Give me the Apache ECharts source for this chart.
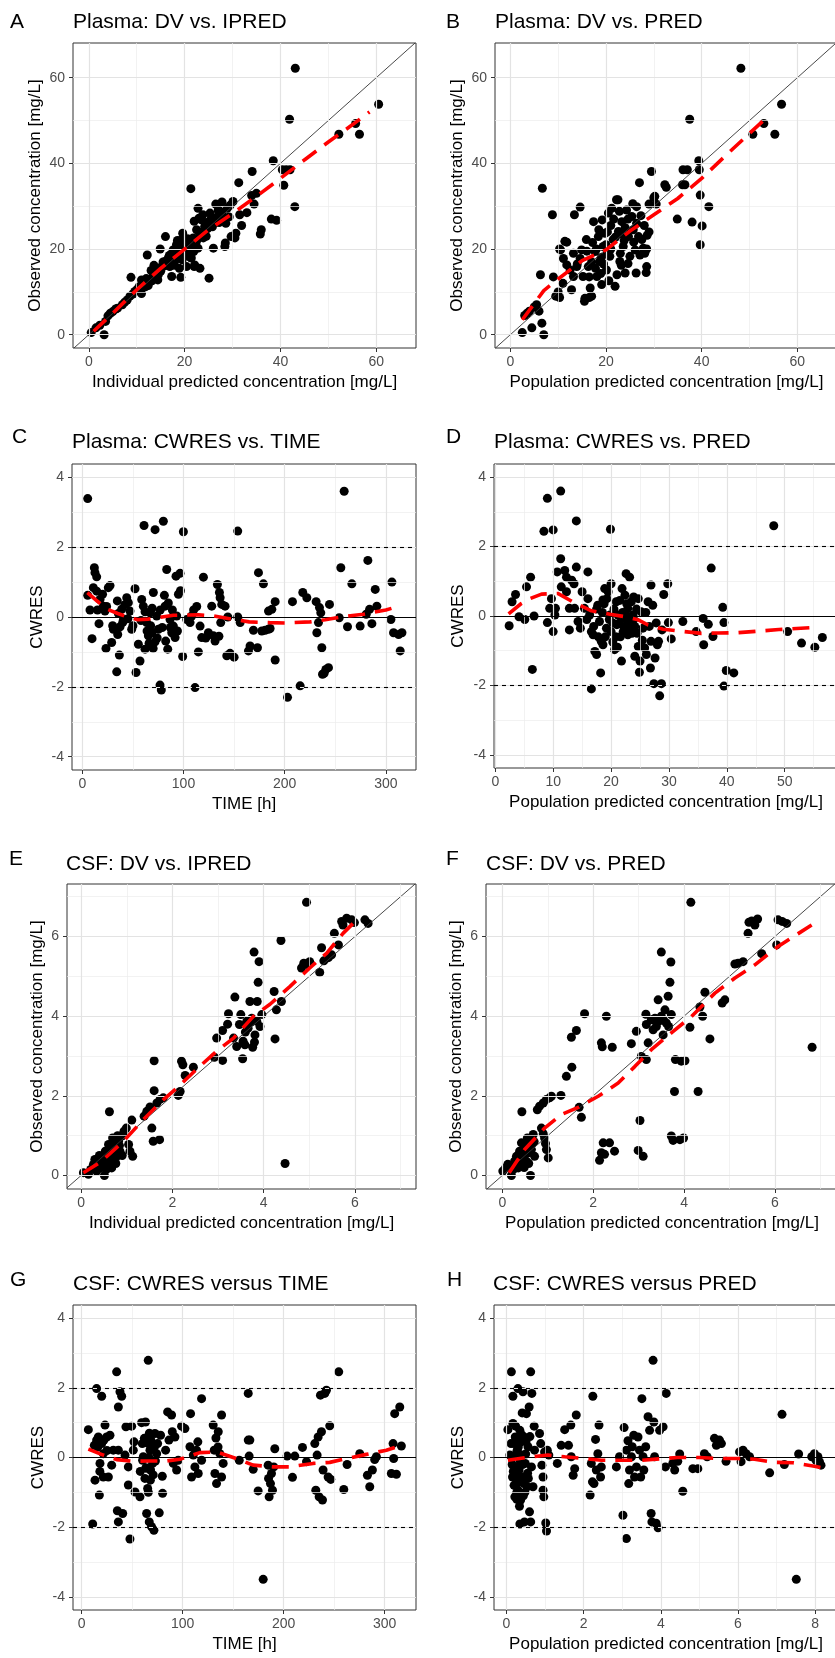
<!DOCTYPE html>
<html>
<head>
<meta charset="utf-8">
<title>Goodness-of-fit plots</title>
<script src="https://cdn.jsdelivr.net/npm/echarts@6/dist/echarts.min.js"></script>
<style>
  html, body { margin: 0; padding: 0; background: #fff; }
  #chart { width: 835px; height: 1658px; }
</style>
</head>
<body>
<div id="chart"></div>
<script>
// ---- values: [x, y] pairs ----

// A: plasma DV vs IPRED
var plasmaDvIpred = [[0.5,0.5],[1.5,1.6],[2.3,2.2],[3.2,0],[3.5,3.1],[4,4.4],[4.5,5],[5,5.4],[5.6,6],[6,6.2],[7,7],[7.5,7.6],[8,8.1],[8.6,9],[8.8,13.4],[9.2,9.5],[9.6,10.1],[10.1,10.6],[10.5,11.2],[11,9.6],[11,12.8],[11.3,12],[12.2,18.6],[12.4,11.5],[12.7,12.4],[13,15],[13.4,13.6],[13.8,14.2],[14.1,15.1],[14.4,12.8],[14.9,20],[15.2,15.9],[15.5,17],[15.9,17.1],[16,22.9],[16.4,16.4],[16.6,17.9],[16.9,15.9],[17.3,13.6],[17.6,19.8],[17.9,17.1],[18.3,21],[18.5,22],[18.6,18.3],[18.9,15.5],[19.2,13.4],[19.3,22.1],[19.6,23.7],[19.9,19],[20.2,20.5],[20.4,15.9],[20.7,21.4],[21,18.2],[21.3,34.1],[21.4,17.9],[21.8,22.6],[22,15.9],[22.1,16.3],[22.3,20.4],[22.5,24.5],[22.8,20.2],[22.8,29.5],[23,27.2],[23.2,15.5],[23.5,26.8],[23.6,24],[23.9,22.6],[24.2,25.3],[24.5,26.2],[25.1,13.2],[25.3,28.4],[26,20.2],[26.3,26.1],[26.5,30.5],[26.7,30.3],[27,29],[27.4,28.8],[27.8,31],[28.1,27.5],[28.4,20.6],[28.5,21.4],[28.9,29.5],[29.3,27.5],[29.7,22.9],[30.1,31.1],[30.5,22.6],[30.7,23.7],[31.3,35.5],[31.5,28],[31.9,25.5],[33,28.5],[34,32.5],[34.1,38.1],[34.5,30.5],[35,33],[35.8,23.5],[36,24.5],[38.1,27],[38.5,40.6],[39.2,26.7],[40.4,38.5],[40.7,34.9],[41.2,38.5],[42,38.5],[41.9,50.3],[43,29.9],[43.1,62.2],[52.2,46.8],[55.7,49.3],[56.5,46.8],[60.5,53.8],[17.2,18.8],[18,17.4],[19,19.8],[20.8,19.2],[21.6,21],[20,20.3],[16.2,16.8],[15,14.8],[13.2,12.6],[12,13.1],[22.6,22.2],[24.8,24.8],[25.8,25.2],[27.2,26.2],[14.5,14],[15.7,16],[16.8,18.5],[17.8,16.2],[18.8,20.6],[19.5,17.5],[20.6,22.4],[21.2,20.8],[21.9,19.4],[22.4,21.5],[23.2,23.4],[22,26.5],[23.8,28],[24.5,23],[25.5,27],[26.8,27.5],[27.8,28.2],[28.6,26],[29.5,30.2],[13.6,16.2],[11.8,11.2],[10.8,10.2]];
var plasmaDvIpredLoess = [[1,0.8],[5,5],[10,10.5],[15,15.5],[20,20],[25,24.5],[30,28.3],[35,32.3],[40,36.5],[45,40.8],[50,45],[55,49],[58.6,52]];

// B: plasma DV vs PRED
var plasmaDvPred = [[2.5,0.5],[4.5,1.6],[7,0],[6.6,2.7],[3,4.5],[3.5,5],[4,5.5],[5,6.5],[5.5,7],[6,5.5],[6.3,14],[6.7,34.2],[8.8,28],[9,13.5],[9.5,9],[10,10],[10.3,8.7],[10.3,20],[10.5,19.8],[11,12],[11.4,21.8],[11.1,17.8],[11.8,16.3],[11.8,21.6],[12.5,15.1],[12.8,10.5],[13.2,19],[13.2,13.6],[13.4,28],[13.9,15.9],[14.6,17.8],[14.6,29.8],[14.9,19.8],[15.2,13.6],[15.5,7.8],[15.6,8.5],[15.9,22.2],[16.3,15.9],[16.5,8.7],[16.7,10.9],[17,9],[17.4,26.4],[17.7,19.4],[18.1,13.6],[18.4,22.9],[18.7,17.1],[19.1,11.7],[19.4,20.6],[19.8,23.7],[20.1,15.1],[20.5,28.4],[20.8,18.3],[21.2,29.5],[21.5,22.2],[21.9,11.3],[22.2,31.5],[22.5,31.5],[22.6,24.1],[22.9,17.1],[23.3,26.4],[23.6,20.6],[24,14.4],[24.3,29.1],[24.7,22.9],[25,18.3],[25.4,27.6],[25.7,24.5],[26.1,19.8],[26.3,14.4],[26.4,29.9],[26.8,22.9],[27,35.5],[27.1,18.6],[27.5,22.2],[27.8,20.2],[28.1,19],[28.4,14.5],[28.5,15.9],[28.5,20],[28.6,23.2],[29,24],[29.5,38.1],[30,32],[30.2,32.3],[30.5,30.5],[32.3,35],[32.6,34.4],[34.9,27],[36,35],[36.1,38.5],[37,38.5],[36.5,35],[37.5,50.3],[38,26.3],[39.4,40.6],[39.5,38.5],[39.7,32.6],[39.7,21],[40.1,25.4],[41.5,29.9],[48.2,62.2],[50.7,46.8],[53,49.3],[55.3,46.8],[56.7,53.8],[17,17],[18,20],[19,18],[20,21],[21,20],[22,22.8],[23,19],[24,25],[19.5,16.5],[16.5,13.5],[14,16.5],[21,25.5],[18.5,24.5],[19.2,26.8],[20.3,24],[21.6,27],[22.8,28.8],[23.8,22],[24.6,27],[25.6,30.6],[26.4,26],[27.3,27.8],[17.8,15.5],[18.9,14.3],[20.6,12.6],[22.3,14],[23.2,16.2],[24.6,16.6],[25.8,21.6],[16,19.5],[17.2,21.5],[20.2,18.8],[23.4,23.5],[28,25.5],[29,30.5]];
var plasmaDvPredLoess = [[2.5,3.5],[7,10.3],[10,13],[15,17.3],[20,19.8],[22.5,22],[25,24.2],[30,28],[35,31.8],[40,36.5],[45,41.8],[50,47],[54.2,51.3]];

// C: plasma CWRES vs TIME
var plasmaResTime = [[5.3,3.39],[5.3,0.62],[7.6,0.2],[9.6,-0.62],[11.9,1.41],[12.5,1.27],[14.2,1.15],[10.9,0.84],[14.2,0.74],[16.5,-0.19],[17.5,0.5],[20.8,0.31],[22.4,0.17],[23.4,-0.9],[25.7,0.84],[27.4,0.9],[29,-0.73],[30.7,-0.35],[34,-1.57],[34.6,0.46],[35.6,0.1],[36.6,-1.09],[37.3,-0.28],[38.9,0.22],[40.6,-0.07],[43.9,0.55],[45.5,0.41],[47.1,0.17],[48.8,-0.35],[52.1,0.81],[53.1,-1.59],[55.4,-0.78],[57,-1.26],[58.7,0.5],[60.3,0.31],[61,2.62],[62,-0.92],[63.6,-0.16],[65.3,-0.54],[66.9,0.12],[68.6,-0.45],[70.2,0.7],[71.9,2.5],[71.9,-0.71],[73.5,0.03],[75.2,-0.35],[76.8,-1.95],[78.1,-2.09],[80.1,2.74],[81.1,0.62],[81.8,0.31],[82.4,-0.69],[83.4,1.36],[84.4,-0.92],[86.7,-0.07],[88.4,-0.45],[90,-0.26],[91.7,-0.59],[92.6,1.17],[95,0.65],[96.6,1.25],[93.3,0.03],[99.9,2.44],[99.2,-1.13],[103.2,-0.07],[106.5,-0.16],[108.1,0.03],[111.4,-2.02],[113.1,0.3],[114.7,-1.0],[116.4,-0.26],[118,-0.59],[119.7,1.14],[124.6,-0.45],[127.9,0.31],[129.6,-0.54],[131.2,-0.69],[133.5,0.93],[135.5,0.7],[136.2,0.55],[137.8,0.36],[136.8,-0.16],[141.1,0.31],[143.8,0],[142.8,-1.11],[146,-1.04],[153.6,2.46],[153.6,0],[156,-0.16],[164.2,-0.97],[165.8,-0.83],[169.1,-0.38],[173.1,-0.88],[174.1,1.27],[179,0.95],[177.4,-0.4],[180.7,-0.38],[184,-0.35],[185.6,-0.33],[184,0.17],[187.3,0.22],[190.6,0.44],[190.6,-1.23],[202.8,-2.3],[207.7,0.44],[215.3,-1.97],[217.9,0.7],[221.9,0.55],[231.1,0.44],[231.8,-0.45],[233.4,-0.16],[234.4,0.27],[235.7,0.12],[236.7,-0.88],[237.4,-1.64],[239,-1.61],[240.7,-1.5],[243.3,-1.45],[244.3,0.36],[253.9,-0.02],[255.5,1.41],[258.8,3.6],[262.1,-0.28],[266.4,0.95],[274.6,-0.26],[280.6,0.08],[282.2,1.62],[283.9,0.22],[286.2,-0.19],[289.5,0.79],[291.1,0.31],[306,1.0],[305,-0.07],[307.6,-0.45],[312.6,-0.5],[314.2,-0.97],[315.9,-0.45],[58,-0.1],[62,0.15],[64,-0.4],[66,-0.75],[67.5,-0.25],[69,0.25],[70,-0.9],[74,-0.6],[77,0.2],[79,-0.3],[85,0.4],[87,-0.3],[89,0.2],[94,-0.4],[97,0.75],[45,-0.05],[50,-0.25],[42,0.35],[30,-0.25],[20,0.65],[24,0.3],[15,0.2],[35,-0.5],[40,-0.15],[110,0.2],[122,-0.6],[135,-0.55],[150,-1.15]];
var plasmaResTimeLoess = [[5,0.7],[15,0.45],[25,0.22],[35,0.1],[45,0.0],[55,-0.08],[65,-0.06],[75,-0.02],[90,0.05],[115,0.06],[130,0.03],[150,-0.07],[165,-0.14],[185,-0.16],[200,-0.17],[225,-0.14],[240,-0.08],[260,0.02],[278,0.08],[300,0.2],[314,0.32]];

// D: plasma CWRES vs PRED
var plasmaResPred = [[2.4,-0.28],[2.9,0.41],[3.5,0.62],[4.1,-0.02],[5.1,-0.1],[5.4,0.84],[6.1,1.12],[6.4,-1.54],[6.7,0],[8.4,2.44],[9,3.39],[10,2.48],[9,-0.19],[9.4,0.22],[9.7,0.5],[10,-0.45],[10.3,0.03],[10.4,0.22],[10.7,1.27],[11.3,3.6],[11.3,1.65],[11.4,0.84],[12,1.31],[12.3,1.12],[12.3,0.7],[12.8,0.22],[13.2,1.03],[13.6,0.93],[12.8,-0.4],[13.7,0.22],[14,2.74],[14,1.41],[14.3,-0.16],[14.7,-0.35],[15,0.7],[15.4,0.22],[16,1.27],[16,0.5],[16.3,0.03],[16.6,-0.45],[16.6,-2.1],[16.9,-0.54],[17.2,-1.02],[17.5,-1.11],[17.7,0.31],[18,-0.16],[18.2,-1.64],[18.3,-0.73],[18.6,0.46],[18.6,-0.83],[18.9,0.79],[19.2,-0.35],[19.5,0.7],[19.9,2.5],[20,0.93],[19.8,0.03],[20,-0.45],[20.6,-0.97],[20.9,0.41],[21.2,0.03],[21.4,-0.21],[21.8,-1.3],[21.9,0.79],[22.1,-0.45],[22.4,0.6],[22.4,-0.07],[22.6,1.22],[22.9,-0.54],[23.2,1.12],[22.9,0.22],[23.5,0.41],[23.8,0.03],[24.1,-0.3],[24.1,-1.16],[24.7,-0.88],[24.9,-1.62],[24.7,0.5],[25.2,0.12],[25.5,-0.35],[25.8,-0.92],[26.1,-1.11],[26.4,0.41],[26.9,0.89],[26.8,-1.5],[26.9,-0.73],[27.2,0.31],[27.4,-1.95],[27.6,-1.21],[28,-0.83],[28.2,-0.73],[28.4,-2.3],[28.7,-1.95],[29.1,0.62],[29.8,0.93],[29.9,-0.19],[30.4,-0.66],[32.4,-0.16],[34.7,-0.45],[35.9,-0.07],[36,-0.83],[36.8,-0.24],[37.3,1.38],[37.6,-0.59],[39.3,0.25],[39.5,-0.19],[39.5,-2.02],[39.9,-1.57],[41.2,-1.64],[48.1,2.6],[50.5,-0.45],[52.9,-0.78],[55.2,-0.9],[56.5,-0.62],[17.5,0.2],[19,-0.6],[20.5,0.2],[21,-0.25],[22,0.1],[23,-0.2],[23.6,-0.5],[24.4,0.2],[21.6,-0.6],[18.5,0.1],[17,-0.3],[15.8,-0.1],[20.3,-0.2],[22.7,0.35],[23.9,-0.1],[17.8,-0.6],[18.8,0.35],[19.7,-0.1],[20.8,-0.6],[21.5,0.45],[22.2,-0.3],[22.8,0.0],[23.3,-0.4],[23.9,0.55],[24.5,-0.5],[25.4,-0.7],[26,0.1],[26.6,-0.3],[27.8,-0.2],[28.8,-0.4],[19.3,0.5],[20.3,-0.75],[21.1,-0.9],[25,-1.3]];
var plasmaResPredLoess = [[2.3,0.06],[4.5,0.36],[6,0.5],[8,0.63],[10.8,0.65],[13.7,0.38],[16.6,0.15],[19.8,0.05],[22.4,-0.02],[24.7,-0.11],[26.4,-0.26],[29,-0.38],[32.7,-0.45],[35.6,-0.5],[38.5,-0.49],[42,-0.48],[46,-0.43],[49,-0.39],[55.2,-0.33]];

// E: CSF DV vs IPRED
var csfDvIpred = [[0.05,0.07],[0.16,0.03],[0.21,0.15],[0.27,0.28],[0.34,0.11],[0.42,0.19],[0.49,0.36],[0.51,0],[0.53,0.61],[0.56,0.48],[0.6,0.78],[0.62,1.6],[0.64,0.53],[0.67,0.19],[0.69,0.94],[0.71,0.36],[0.74,0.69],[0.78,0.48],[0.82,0.86],[0.85,0.61],[0.89,0.99],[0.94,1.11],[0.99,1.19],[1.04,0.78],[1.07,0.61],[1.13,0.48],[1.11,1.39],[1.38,1.49],[1.44,1.61],[1.51,1.72],[1.55,1.19],[1.58,0.86],[1.6,2.13],[1.6,2.88],[1.66,1.82],[1.72,0.9],[1.73,1.91],[1.8,1.95],[2.13,2.01],[2.17,2.11],[2.2,2.87],[2.23,2.78],[2.28,2.51],[2.46,2.72],[2.92,2.97],[2.97,3.45],[3.1,2.89],[3.1,3.64],[3.21,3.8],[3.23,4.06],[3.37,4.48],[3.34,3.45],[3.41,3.24],[3.47,3.79],[3.5,4.04],[3.54,2.93],[3.55,3.37],[3.59,3.28],[3.63,3.87],[3.66,3.7],[3.7,4.37],[3.74,3.95],[3.76,3.22],[3.79,5.61],[3.81,3.53],[3.85,3.87],[3.86,4.37],[3.88,4.85],[3.9,5.37],[3.92,3.74],[3.96,4.04],[4.23,4.62],[4.25,3.43],[4.28,4.16],[4.38,5.9],[4.39,4.37],[4.47,0.3],[4.83,5.21],[4.88,5.33],[4.94,6.86],[4.98,5.29],[5.01,5.37],[5.23,5.1],[5.27,5.72],[5.32,5.39],[5.42,5.47],[5.49,5.54],[5.55,6.08],[5.64,5.79],[5.71,6.38],[5.74,6.29],[5.82,6.46],[5.93,6.42],[5.99,6.35],[6.22,6.42],[6.29,6.33],[0.3,0.4],[0.45,0.3],[0.58,0.25],[0.62,0.65],[0.7,0.8],[0.76,0.3],[0.8,1.0],[3.6,3.6],[3.72,3.85],[3.8,3.35],[0.4,0.5],[0.55,0.15],[0.66,0.4],[0.72,0.6],[0.84,0.75],[0.9,0.5]];
var csfDvIpredLoess = [[0.05,0.07],[0.42,0.33],[0.93,0.86],[1.36,1.4],[1.8,1.9],[2.1,2.2],[2.6,2.74],[2.97,3.12],[3.34,3.45],[3.77,3.99],[4.14,4.3],[4.58,4.75],[5.01,5.21],[5.38,5.58],[5.74,6.08],[6.04,6.42]];

// F: CSF DV vs PRED
var csfDvPred = [[0.01,0.11],[0.07,0.19],[0.12,0.28],[0.2,0],[0.24,0.15],[0.27,0.36],[0.31,0.48],[0.35,0.19],[0.38,0.61],[0.42,0.82],[0.43,1.6],[0.46,0.53],[0.49,0.69],[0.53,0.36],[0.55,0.94],[0.57,0.57],[0.6,0.86],[0.62,0],[0.64,0.65],[0.68,1.03],[0.71,0.48],[0.77,1.65],[0.82,1.74],[0.9,1.82],[0.97,1.91],[1.04,1.95],[1.08,1.99],[0.86,1.19],[0.93,0.94],[0.97,0.65],[1.01,0.44],[1.29,2.01],[1.41,2.49],[1.52,3.47],[1.53,2.72],[1.63,3.64],[1.69,1.71],[1.74,1.46],[1.81,4.06],[2.14,0.38],[2.18,0.57],[2.22,0.82],[2.18,3.33],[2.2,3.23],[2.25,0.53],[2.29,4.0],[2.36,0.82],[2.42,3.22],[2.47,0.61],[2.84,3.31],[2.95,3.62],[2.99,0.63],[3.03,1.38],[3.1,0.48],[3.06,2.99],[3.17,2.91],[3.16,4.05],[3.17,3.79],[3.21,3.33],[3.28,3.91],[3.32,3.66],[3.36,3.95],[3.39,3.74],[3.43,4.41],[3.44,3.87],[3.5,5.61],[3.54,3.53],[3.58,4.16],[3.61,3.83],[3.65,4.5],[3.66,3.74],[3.69,4.85],[3.71,5.36],[3.72,4.04],[3.72,0.99],[3.76,0.88],[3.79,2.11],[3.81,2.91],[3.91,0.9],[3.94,2.87],[3.99,0.94],[4.02,2.88],[4.13,3.72],[4.15,6.86],[4.31,2.11],[4.35,4.23],[4.41,4.0],[4.46,4.6],[4.57,3.43],[4.84,4.33],[4.9,4.41],[5.12,5.31],[5.19,5.33],[5.3,5.37],[5.41,6.08],[5.43,6.36],[5.49,6.39],[5.56,6.29],[5.62,6.44],[5.71,5.57],[6.04,5.79],[6.07,6.42],[6.16,6.38],[6.26,6.33],[6.82,3.22],[0.3,0.25],[0.45,0.4],[0.5,0.75],[0.58,0.3],[0.66,0.8],[0.4,0.6],[3.4,3.85],[3.5,4.0],[3.55,3.9],[0.36,0.35],[0.48,0.2],[0.52,0.55],[0.6,0.7],[0.7,0.85],[0.9,1.05],[0.95,0.8]];
var csfDvPredLoess = [[0.15,0.07],[0.49,0.65],[0.93,1.19],[1.3,1.53],[1.67,1.71],[2.11,1.99],[2.55,2.32],[2.92,2.74],[3.28,3.16],[3.72,3.58],[4.16,3.99],[4.68,4.58],[5.12,4.96],[5.56,5.29],[6.07,5.75],[6.81,6.29]];

// G: CSF CWRES vs TIME
var csfResTime = [[6.6,0.8],[10.9,-1.91],[12.5,0.35],[13.2,-0.65],[14.8,1.98],[14.8,0.5],[16.5,0.59],[17.5,-1.08],[18.1,-0.17],[19.8,1.76],[19.8,0.4],[21.4,-0.56],[21.4,0.11],[23.1,0.93],[24.7,0.59],[26.4,-0.56],[28,0.64],[29.7,-0.22],[31.3,0.21],[34.6,2.46],[35.3,-1.53],[36.3,0.21],[36.3,1.45],[36.3,-1.85],[37.9,1.89],[39.6,1.76],[40.6,-1.61],[42.9,0.07],[43.8,0.88],[46.2,-0.79],[46.2,-0.27],[47.8,-2.34],[49.5,0.9],[51.1,0.21],[51.8,0.45],[52.8,-0.99],[57.7,-1.13],[59.3,1.0],[60.3,-0.08],[61,0.02],[62.6,-0.6],[63.2,1.02],[64.3,-1.61],[65.3,-0.89],[65.9,2.79],[65.9,0.4],[66.9,-1.85],[67.6,0.21],[68.2,-0.36],[69.2,-1.99],[70.2,-0.17],[71.5,-2.09],[72.5,0.69],[74.2,0.11],[75.2,0.4],[76.8,-1.59],[78.1,0.64],[79.8,-0.54],[80.1,-1.03],[83.1,0.21],[85.1,1.31],[86.4,0.5],[89,1.22],[89.7,0.74],[90.7,-0.17],[92.3,0.59],[94,-0.36],[95.6,-0.08],[98.9,0.9],[102.2,0.83],[107.2,0.31],[107.8,1.26],[108.8,-0.56],[110.5,0.07],[112.1,-0.27],[113.7,0.21],[115.4,-0.46],[118.7,1.69],[118.7,-0.08],[130.2,0.93],[131.2,0.21],[131.9,-0.46],[132.9,0.56],[133.5,-0.75],[135.2,0.74],[136.8,0.11],[138.5,1.22],[138.5,-0.56],[140.1,-0.17],[156,-0.08],[164.9,1.84],[164.9,0.5],[166.5,0.5],[165.8,0.04],[169.8,-0.34],[174.7,-0.96],[179.7,-3.5],[184.6,-0.22],[185.6,-1.13],[186.9,-0.75],[187.9,-0.46],[188.9,-0.94],[191.2,0.25],[190.2,-0.27],[203.4,0.04],[208.7,-0.57],[211,0.04],[218.6,0.29],[222.6,-0.12],[230.8,0.4],[231.8,-0.94],[233.1,0.07],[234.1,0.59],[235.1,-1.13],[236.4,1.79],[237.4,0.74],[238.4,-1.22],[239,-0.36],[240.7,1.84],[242.3,1.93],[244,-0.56],[245.6,0.91],[246.6,-0.63],[254.5,2.46],[259.5,-0.92],[262.8,-0.2],[275.3,0.11],[282.9,-0.51],[285.2,-0.84],[287.8,-0.36],[290.1,-0.06],[291.8,0.02],[306.6,-0.46],[308.3,0.4],[308.9,-0.03],[309.9,1.26],[311.6,-0.48],[314.9,1.45],[316.5,0.33],[16,0.3],[18,-0.4],[22,0.5],[25,0.2],[62,0.55],[64,-0.3],[66.5,0.0],[68.5,0.5],[70.8,-0.5],[73,-0.1],[115,0.45],[135,0.3],[185,-0.6],[63.5,-0.3],[66,-1.0],[67,0.7],[68,-0.65],[72,0.3],[60,0.4],[58,-0.4]];
var csfResTimeLoess = [[6.6,0.24],[21.4,0.07],[34.6,-0.06],[51.1,-0.11],[64.3,-0.1],[84.1,-0.1],[97.3,-0.05],[117,0.14],[133.5,0.16],[153.3,-0.03],[169.8,-0.22],[189.6,-0.27],[206,-0.27],[229.1,-0.17],[245.6,-0.14],[265.4,-0.01],[281.9,0.09],[301.7,0.21],[314.9,0.33]];

// H: CSF CWRES vs PRED
var csfResPred = [[0.04,0.8],[0.09,0.07],[0.13,2.46],[0.16,-0.56],[0.17,1.76],[0.17,0.98],[0.2,0.4],[0.22,-0.27],[0.22,-1.13],[0.23,0.59],[0.26,-0.75],[0.28,0.21],[0.3,1.98],[0.3,-0.94],[0.33,-0.36],[0.35,0.78],[0.35,-1.91],[0.37,-1.22],[0.39,0.07],[0.41,1.28],[0.43,1.89],[0.43,-0.56],[0.46,0.59],[0.47,-1.85],[0.49,-0.17],[0.52,1.26],[0.54,-0.84],[0.56,0.31],[0.59,1.45],[0.6,-1.56],[0.63,2.46],[0.63,-1.85],[0.65,-0.27],[0.66,1.84],[0.69,-0.84],[0.72,0.9],[0.73,0.21],[0.86,0.69],[0.89,0.4],[0.92,-0.22],[0.95,-0.56],[0.95,-0.94],[0.97,-1.13],[0.99,0.16],[1.02,-1.88],[1.04,-2.11],[1.06,0.21],[1.1,0.07],[1.32,-0.17],[1.42,0.35],[1.51,0.8],[1.61,0.35],[1.67,0.93],[1.68,0.02],[1.73,-0.51],[1.77,-0.32],[1.81,1.22],[2.17,-1.08],[2.2,-0.17],[2.23,-0.7],[2.24,1.76],[2.27,-0.75],[2.31,0.52],[2.33,-0.36],[2.37,0.11],[2.4,0.93],[2.44,-0.56],[2.46,-0.27],[2.85,-0.27],[2.93,0.02],[3.02,-1.66],[3.05,0.86],[3.11,-2.33],[3.11,0.21],[3.15,0.48],[3.17,-0.75],[3.19,-0.36],[3.24,0.02],[3.26,0.31],[3.3,0.64],[3.32,-0.56],[3.37,-0.27],[3.41,0.59],[3.45,0.21],[3.48,-0.56],[3.51,1.69],[3.54,0.02],[3.56,-0.36],[3.61,0.31],[3.67,1.17],[3.71,0.78],[3.75,-1.61],[3.77,-1.85],[3.8,2.79],[3.82,1.02],[3.84,0.02],[3.88,-1.89],[3.93,-2.02],[3.97,0.78],[4.06,0.88],[4.12,-0.27],[4.14,1.84],[4.31,-0.17],[4.36,-0.36],[4.44,-0.11],[4.49,0.1],[4.57,-0.97],[4.83,-0.32],[4.96,-0.32],[5.13,0.11],[5.2,0.02],[5.39,0.55],[5.44,0.35],[5.52,0.5],[5.57,0.4],[5.69,-0.11],[6.04,0.16],[6.08,-0.12],[6.13,0.21],[6.21,0.11],[6.3,0.02],[6.82,-0.44],[7.14,1.24],[7.2,-0.2],[7.51,-3.5],[7.57,0.1],[7.91,0.02],[7.98,0.11],[8.02,-0.08],[8.07,0.02],[8.11,-0.12],[8.15,-0.22],[0.18,-0.4],[0.25,0.1],[0.32,-0.65],[0.38,0.45],[0.42,-0.2],[0.48,-1.0],[0.27,-1.0],[0.36,-0.1],[0.5,0.1],[0.55,-0.45],[0.12,0.4],[0.2,-0.8],[0.24,0.9],[0.29,-0.5],[0.31,0.3],[0.34,-1.4],[0.4,0.65],[0.45,-0.75],[0.51,0.45],[0.57,-0.6],[0.61,0.6],[0.44,-1.1],[0.15,-0.2],[0.27,-1.2]];
var csfResPredLoess = [[0.04,-0.08],[0.52,0],[1.08,0.07],[1.51,0.02],[2.03,-0.03],[2.46,-0.08],[3.02,-0.08],[3.49,-0.08],[4.06,-0.03],[4.44,0],[5,0],[5.48,-0.03],[6,-0.03],[6.43,-0.05],[6.95,-0.14],[7.42,-0.15],[7.98,-0.25],[8.15,-0.29]];

// tick values (major = labelled, minor = grid only)
var concTicks = [0, 20, 40, 60];
var concMinor = [10, 30, 50];
var cwresTicks = [-4, -2, 0, 2, 4];
var cwresMinor = [-3, -1, 1, 3];
var timeTicks = [0, 100, 200, 300];
var timeMinor = [50, 150, 250];
var plasmaPredTicks = [0, 10, 20, 30, 40, 50];
var plasmaPredMinor = [5, 15, 25, 35, 45, 55];
var csfTicks = [0, 2, 4, 6];
var csfMinor = [1, 3, 5, 7];
var csfPredTicks = [0, 2, 4, 6, 8];
var csfPredMinor = [1, 3, 5, 7];

var font = 'Liberation Sans, Arial, Helvetica, sans-serif';
var obsName = 'Observed concentration [mg/L]';
var popName = 'Population predicted concentration [mg/L]';
var indName = 'Individual predicted concentration [mg/L]';

// one entry per panel: box = [left, top, width, height] in px
var panels = [
  { tag: 'A', title: 'Plasma: DV vs. IPRED', tagPos: [10, 12], titlePos: [73, 12], box: [73, 43, 343, 305],
    x: [-3.3, 68.3], y: [-3.1, 68.1], xTicks: concTicks, xMinor: concMinor, yTicks: concTicks, yMinor: concMinor,
    xName: indName, yName: obsName, yGap: 29, pts: plasmaDvIpred, loess: plasmaDvIpredLoess, kind: 'dv' },
  { tag: 'B', title: 'Plasma: DV vs. PRED', tagPos: [446, 12], titlePos: [495, 12], box: [495, 43, 343, 305],
    x: [-3.2, 68.5], y: [-3.1, 68.1], xTicks: concTicks, xMinor: concMinor, yTicks: concTicks, yMinor: concMinor,
    xName: popName, yName: obsName, yGap: 29, pts: plasmaDvPred, loess: plasmaDvPredLoess, kind: 'dv' },
  { tag: 'C', title: 'Plasma: CWRES vs. TIME', tagPos: [12, 427], titlePos: [72, 432], box: [72, 464, 344, 306],
    x: [-10.2, 329.8], y: [-4.38, 4.38], xTicks: timeTicks, xMinor: timeMinor, yTicks: cwresTicks, yMinor: cwresMinor,
    xName: 'TIME [h]', yName: 'CWRES', yGap: 26, pts: plasmaResTime, loess: plasmaResTimeLoess, kind: 'res' },
  { tag: 'D', title: 'Plasma: CWRES vs. PRED', tagPos: [446, 427], titlePos: [494, 432], box: [494, 464, 344, 304],
    x: [-0.22, 59.2], y: [-4.38, 4.38], xTicks: plasmaPredTicks, xMinor: plasmaPredMinor, yTicks: cwresTicks, yMinor: cwresMinor,
    xName: popName, yName: 'CWRES', yGap: 27, pts: plasmaResPred, loess: plasmaResPredLoess, kind: 'res' },
  { tag: 'E', title: 'CSF: DV vs. IPRED', tagPos: [9, 849], titlePos: [66, 854], box: [67, 884, 349, 305],
    x: [-0.31, 7.34], y: [-0.34, 7.32], xTicks: csfTicks, xMinor: csfMinor, yTicks: csfTicks, yMinor: csfMinor,
    xName: indName, yName: obsName, yGap: 21, pts: csfDvIpred, loess: csfDvIpredLoess, kind: 'dv' },
  { tag: 'F', title: 'CSF: DV vs. PRED', tagPos: [446, 849], titlePos: [486, 854], box: [486, 884, 352, 305],
    x: [-0.36, 7.39], y: [-0.34, 7.32], xTicks: csfTicks, xMinor: csfMinor, yTicks: csfTicks, yMinor: csfMinor,
    xName: popName, yName: obsName, yGap: 21, pts: csfDvPred, loess: csfDvPredLoess, kind: 'dv' },
  { tag: 'G', title: 'CSF: CWRES versus TIME', tagPos: [10, 1270], titlePos: [73, 1274], box: [73, 1305, 343, 305],
    x: [-8.6, 331], y: [-4.38, 4.38], xTicks: timeTicks, xMinor: timeMinor, yTicks: cwresTicks, yMinor: cwresMinor,
    xName: 'TIME [h]', yName: 'CWRES', yGap: 26, pts: csfResTime, loess: csfResTimeLoess, kind: 'res' },
  { tag: 'H', title: 'CSF: CWRES versus PRED', tagPos: [447, 1270], titlePos: [493, 1274], box: [494, 1305, 344, 305],
    x: [-0.32, 8.59], y: [-4.38, 4.38], xTicks: csfPredTicks, xMinor: csfPredMinor, yTicks: cwresTicks, yMinor: cwresMinor,
    xName: popName, yName: 'CWRES', yGap: 27, pts: csfResPred, loess: csfResPredLoess, kind: 'res' }
];

var titles = [], grids = [], xAxes = [], yAxes = [], series = [];

function axisFor(i, range, ticks, name, gap, isX) {
  return {
    gridIndex: i,
    type: 'value',
    min: range[0],
    max: range[1],
    axisLine: { show: false, onZero: false },
    axisTick: { show: true, length: 4, customValues: ticks, lineStyle: { color: '#333', width: 1 } },
    axisLabel: { customValues: ticks, color: '#4D4D4D', fontSize: 14, fontFamily: font, margin: isX ? 7 : 8 },
    splitLine: { show: false },
    name: name,
    nameLocation: 'middle',
    nameGap: gap,
    nameTextStyle: { color: '#000', fontSize: 17, fontFamily: font }
  };
}

panels.forEach(function (p, i) {
  titles.push({ text: p.tag, left: p.tagPos[0], top: p.tagPos[1], padding: 0,
    textStyle: { fontSize: 21, fontWeight: 'normal', color: '#000', fontFamily: font } });
  titles.push({ text: p.title, left: p.titlePos[0], top: p.titlePos[1], padding: 0,
    textStyle: { fontSize: 21, fontWeight: 'normal', color: '#000', fontFamily: font } });

  grids.push({ left: p.box[0], top: p.box[1], width: p.box[2], height: p.box[3], show: true,
    borderColor: '#333', borderWidth: 1, backgroundColor: 'transparent', containLabel: false, outerBoundsMode: 'none' });

  xAxes.push(axisFor(i, p.x, p.xTicks, p.xName, 26, true));
  yAxes.push(axisFor(i, p.y, p.yTicks, p.yName, p.yGap, false));

  // panel grid lines (theme_bw style)
  var gl = [];
  p.xMinor.forEach(function (v) { gl.push({ xAxis: v, lineStyle: { color: '#EDEDED', width: 0.7, type: 'solid' } }); });
  p.yMinor.forEach(function (v) { gl.push({ yAxis: v, lineStyle: { color: '#EDEDED', width: 0.7, type: 'solid' } }); });
  p.xTicks.forEach(function (v) { gl.push({ xAxis: v, lineStyle: { color: '#E3E3E3', width: 1.2, type: 'solid' } }); });
  p.yTicks.forEach(function (v) { gl.push({ yAxis: v, lineStyle: { color: '#E3E3E3', width: 1.2, type: 'solid' } }); });
  series.push({ type: 'line', xAxisIndex: i, yAxisIndex: i, data: [], silent: true, z: 1,
    markLine: { silent: true, symbol: ['none', 'none'], label: { show: false }, emphasis: { disabled: true }, data: gl } });

  // observations
  series.push({ type: 'scatter', xAxisIndex: i, yAxisIndex: i, data: p.pts, symbol: 'circle', symbolSize: 9,
    itemStyle: { color: '#000', opacity: 1, borderWidth: 0 }, silent: true, z: 3 });

  // reference lines
  if (p.kind === 'dv') {
    var lo = Math.max(p.x[0], p.y[0]), hi = Math.min(p.x[1], p.y[1]);
    series.push({ type: 'line', xAxisIndex: i, yAxisIndex: i, data: [[lo, lo], [hi, hi]], showSymbol: false,
      silent: true, lineStyle: { color: '#333', width: 0.9 }, z: 4 });
  } else {
    series.push({ type: 'line', xAxisIndex: i, yAxisIndex: i, data: [], silent: true, z: 4,
      markLine: { silent: true, symbol: ['none', 'none'], label: { show: false }, emphasis: { disabled: true },
        data: [
          { yAxis: 0, lineStyle: { color: '#000', width: 1.2, type: 'solid' } },
          { yAxis: 2, lineStyle: { color: '#000', width: 1.1, type: [4, 4] } },
          { yAxis: -2, lineStyle: { color: '#000', width: 1.1, type: [4, 4] } }
        ] } });
  }

  // loess trend
  series.push({ type: 'line', xAxisIndex: i, yAxisIndex: i, data: p.loess, showSymbol: false, smooth: false,
    silent: true, lineStyle: { color: '#FF0000', width: 3.6, type: [17, 10] }, z: 5 });
});

var chart = echarts.init(document.getElementById('chart'), null, { renderer: 'canvas' });
chart.setOption({
  animation: false,
  backgroundColor: '#fff',
  title: titles,
  grid: grids,
  xAxis: xAxes,
  yAxis: yAxes,
  series: series
});
</script>
</body>
</html>
